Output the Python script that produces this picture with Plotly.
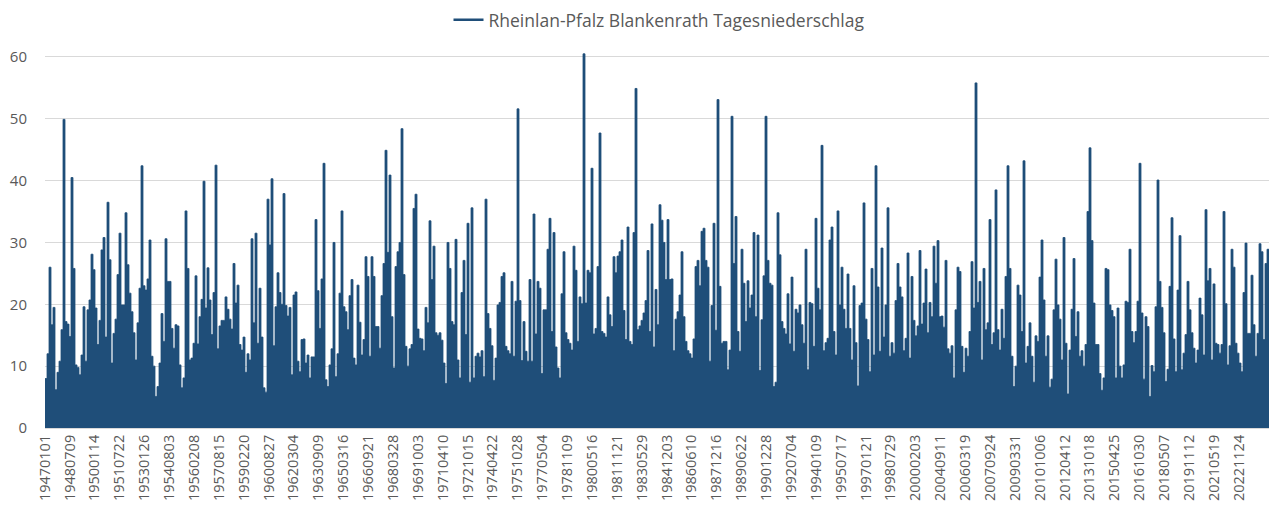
import plotly.graph_objects as go

# Tick labels of the category axis (every 555th day)
tick_labels = [
    "19470101", "19480709", "19500114", "19510722", "19530126", "19540803", "19560208",
    "19570815", "19590220", "19600827", "19620304", "19630909", "19650316", "19660921",
    "19680328", "19691003", "19710410", "19721015", "19740422", "19751028", "19770504",
    "19781109", "19800516", "19811121", "19830529", "19841203", "19860610", "19871216",
    "19890622", "19901228", "19920704", "19940109", "19950717", "19970121", "19980729",
    "20000203", "20040911", "20060319", "20070924", "20090331", "20101006", "20120412",
    "20131018", "20150425", "20161030", "20180507", "20191112", "20210519", "20221124",
]
TICK_STEP = 555          # categories between labels
N_DAYS = 27400           # number of daily categories in the series

# Peak daily precipitation (mm) per ~45-day period
peaks_1947 = [8, 12, 26, 16.7, 19.5, 6.2, 9, 10.8, 15.9, 49.9, 17.2, 16.8, 14.8, 40.5, 25.8, 10.2, 9.8, 8.6,
              11.8, 19.6, 10.8, 19.1, 20.7, 28.1, 25.6, 19.4, 13.5, 17.4, 28.8, 30.8, 14.7, 36.5, 27.2, 10.5,
              15.3, 17.6, 24.8, 31.5, 19.9, 19.9, 34.8, 26.4, 21.8, 18.8, 15.4, 11, 17, 22.6, 42.4, 23, 22.3,
              24.1, 30.4, 11.6, 10, 5.1, 6.7, 10.5, 18.5, 14, 30.6, 23.7, 23.7, 16.1, 12.9, 16.7]
peaks_1955 = [16.5, 10.2, 6.5, 8.1, 35.1, 25.8, 11, 11.3, 13.7, 24.6, 13.6, 18, 20.8, 39.9, 19.4, 25.9, 20.7,
              15.1, 21.9, 42.5, 12.8, 16.5, 17.4, 17.4, 21.2, 19.2, 17.6, 16, 26.6, 20.2, 23.1, 13.5, 12.6, 14.7,
              9, 12, 11, 30.6, 17, 31.5, 13.7, 22.6, 14.7, 6.5, 5.8, 37, 29.6, 40.3, 13.3, 19.6, 25.1, 21.9, 20,
              37.9, 19.8, 18.1, 19.5, 8.6, 21.5, 22, 10.8, 9.1, 14.3, 14.4, 10.5, 11.8, 8.1, 11.5]
peaks_1963 = [11.5, 33.7, 22.2, 16.1, 24.1, 42.8, 7.8, 6.7, 10.2, 12.8, 30, 8.3, 12, 21.8, 35.1, 19.6, 18.8,
              15.9, 21.4, 24, 11.3, 10.2, 23.1, 17.1, 11.8, 14.3, 27.7, 24.5, 11.6, 27.7, 24.5, 16.4, 16.4, 12.9,
              21.4, 26.6, 44.9, 28.4, 40.9, 18, 9.7, 26.1, 28.5, 30, 48.4, 24.8, 13.2, 10, 12.8, 13.5, 35.5, 37.8,
              16, 14.5, 14.4, 12.5, 19.5, 17, 33.5, 24, 29.4, 15.4, 15, 15.4, 14.2, 10.5, 7.2, 30, 25.8]
peaks_1971 = [17.2, 16.7, 30.5, 11, 8.1, 21.9, 27.1, 15.1, 33.1, 7.4, 35.6, 8.1, 11.6, 12.1, 11.5, 12.5, 8.3,
              37, 18.5, 16.1, 13.3, 7.7, 11.3, 19.9, 20.3, 24.5, 25.1, 13.2, 12.5, 12, 23.7, 11.6, 20.5, 51.6,
              20.6, 10.9, 17.2, 12.4, 10.8, 24, 10.8, 34.6, 15.2, 23.7, 22.6, 8.8, 19.1, 19.1, 28.9, 33.9, 15.6,
              31.6, 13.1, 9.7, 8.1, 21.7, 28.5, 15.4, 14.3, 13.7, 12.6, 29.4, 25.5, 14, 21.2, 20.1, 60.5, 20.2,
              25.5]
peaks_1980 = [25.1, 42, 15.2, 16.1, 26.1, 47.7, 15.6, 15.3, 14.7, 21.2, 18.3, 16.4, 27.7, 25.1, 27.8, 28.5,
              30.4, 19, 14.3, 32.5, 14, 13.5, 31.6, 54.9, 15.9, 16.5, 17.4, 18.6, 20.6, 28.7, 15.6, 33, 13.1,
              22.4, 16.7, 36.1, 33.6, 30, 24, 33.7, 24, 24.1, 12.5, 17.6, 18.8, 21.5, 28.5, 18, 14, 12.5, 12, 11.3,
              14.4, 26.1, 27.1, 23, 31.8, 32.3, 27.1, 26, 10.8, 19.8, 33.1, 15.8, 53.1, 22.9, 13.7, 14]
peaks_1988 = [14, 9.4, 12.6, 50.4, 26.6, 34.2, 15.6, 12.4, 28.9, 23.4, 17.2, 23.8, 19.4, 21.5, 31.6, 18, 31.2,
              9.3, 17.5, 24.6, 50.4, 27.1, 23.4, 23.1, 6.7, 7.4, 34.8, 28, 17.2, 16.1, 15.2, 21.7, 13.6, 24.4,
              12.4, 19.2, 18.6, 19.9, 16.7, 13.7, 28.9, 9.4, 20.3, 20.1, 13.2, 33.9, 22.6, 19.1, 45.7, 12.5, 13.8,
              14.5, 30.4, 32.5, 15.6, 11.8, 35.1, 19.9, 26, 19.2, 16.1, 24.9, 16.1, 11, 23, 13.8, 6.8, 19.8]
peaks_1996 = [20.2, 36.4, 17.6, 14.3, 9.1, 25.8, 11.8, 42.4, 22.8, 12.4, 29.1, 14.7, 19.9, 35.6, 11.6, 13.8,
              12.1, 20.6, 26.6, 22.8, 21.2, 12.5, 14.5, 28.3, 11.3, 24.5, 17.4, 14.9, 16.5, 28.7, 16.8, 20.2,
              25.7, 15.4, 20.3, 18, 29.4, 23.4, 30.3, 18, 18.1, 16.3, 27.1, 12.8, 12.1, 13.3, 8.1, 19.1, 26, 25.3,
              13.2, 9, 12.9, 11.6, 15.6, 26.9, 19.4, 55.8, 20.3, 23.7, 11, 25.8, 15.9, 17, 33.7, 13.5, 15.4, 38.5]
peaks_2008 = [15.9, 12.6, 19.2, 14.5, 24.5, 42.4, 25.8, 11.6, 6.7, 10, 23.1, 21.5, 15.6, 43.2, 10.5, 13.2, 17,
              11.6, 7.4, 14.9, 14, 24.4, 30.4, 20.7, 11.6, 14.9, 6.6, 7.9, 19.1, 27.3, 19.9, 17.6, 11, 30.8, 13.7,
              5.5, 12.6, 19.2, 27.4, 14.8, 18.8, 11.6, 12.5, 10, 13.5, 35, 45.3, 30.3, 20.2, 13.5, 13.5, 8.8, 6.1,
              8.1, 25.8, 25.6, 19.9, 19, 18, 8.1, 19.4, 10, 8.1, 10.2, 20.5, 20.3, 28.9, 15.6, 13.8]
peaks_2016 = [15.6, 20.5, 42.8, 18.6, 7.9, 18, 16.4, 5.1, 10.1, 9.1, 19.6, 40.1, 23.7, 19.5, 15.4, 7.5, 9.5,
              22.9, 34, 14.4, 9.1, 22.3, 31.1, 9.4, 12.1, 15.1, 23.7, 19.1, 15.4, 12.9, 10.5, 12.6, 21, 18.3, 11.8,
              35.3, 23.8, 25.8, 11, 23.3, 13.7, 13.5, 12.1, 13.5, 35, 20.1, 10.2, 13.3, 28.9, 26, 13.7, 12.1, 10.5,
              9.1, 21.9, 29.9, 15.3, 15.3, 24.7, 16.7, 11.6, 15.3, 29.8, 28.5, 14.3, 26.6, 28.9, 17.2, 22.4]

SERIES_NAME = "Rheinlan-Pfalz Blankenrath Tagesniederschlag"
COLOR = "#1F4E79"
TEXT = "#595959"
GRID = "#D9D9D9"
FONT = "Open Sans"

peaks = (peaks_1947 + peaks_1955 + peaks_1963 + peaks_1971 + peaks_1980 +
         peaks_1988 + peaks_1996 + peaks_2008 + peaks_2016)
bin_w = N_DAYS / len(peaks)
xs = [i * bin_w for i in range(len(peaks))] + [N_DAYS]
ys = peaks + [peaks[-1]]

fig = go.Figure()
fig.add_trace(go.Scatter(
    x=xs, y=ys, mode="lines", line=dict(color=COLOR, width=0.8, shape="hv"),
    fill="tozeroy", fillcolor=COLOR, showlegend=False, hoverinfo="skip",
))
fig.add_trace(go.Scatter(
    x=[None], y=[None], mode="lines", name=SERIES_NAME,
    line=dict(color=COLOR, width=2.5),
))

# page body adds an 8px margin, so the figure is sized/margined to compensate
fig.update_layout(
    width=1269, height=517,
    margin=dict(l=37, r=4, t=18, b=97, autoexpand=False),
    paper_bgcolor="white", plot_bgcolor="white",
    font=dict(family=FONT, size=14, color=TEXT),
    showlegend=True,
    legend=dict(orientation="h", x=0.5, xanchor="center", y=1.015, yanchor="middle",
                font=dict(family=FONT, size=17.5, color=TEXT), bgcolor="rgba(0,0,0,0)"),
    xaxis=dict(
        range=[0, N_DAYS], tickmode="array", automargin=False,
        tickvals=[i * TICK_STEP for i in range(len(tick_labels))], ticktext=tick_labels,
        tickangle=-90, tickfont=dict(family=FONT, size=14.5, color=TEXT),
        showgrid=False, zeroline=False, showline=True, linecolor=GRID, linewidth=1,
        ticks="", fixedrange=True,
    ),
    yaxis=dict(
        range=[0, 65], tickmode="array", tickvals=[0, 10, 20, 30, 40, 50, 60], automargin=False,
        tickfont=dict(family=FONT, size=15, color=TEXT),
        showgrid=True, gridcolor=GRID, gridwidth=1, zeroline=False, showline=False,
        ticks="outside", ticklen=14, tickcolor="rgba(0,0,0,0)", fixedrange=True,
    ),
)

fig.write_html("out.html")
